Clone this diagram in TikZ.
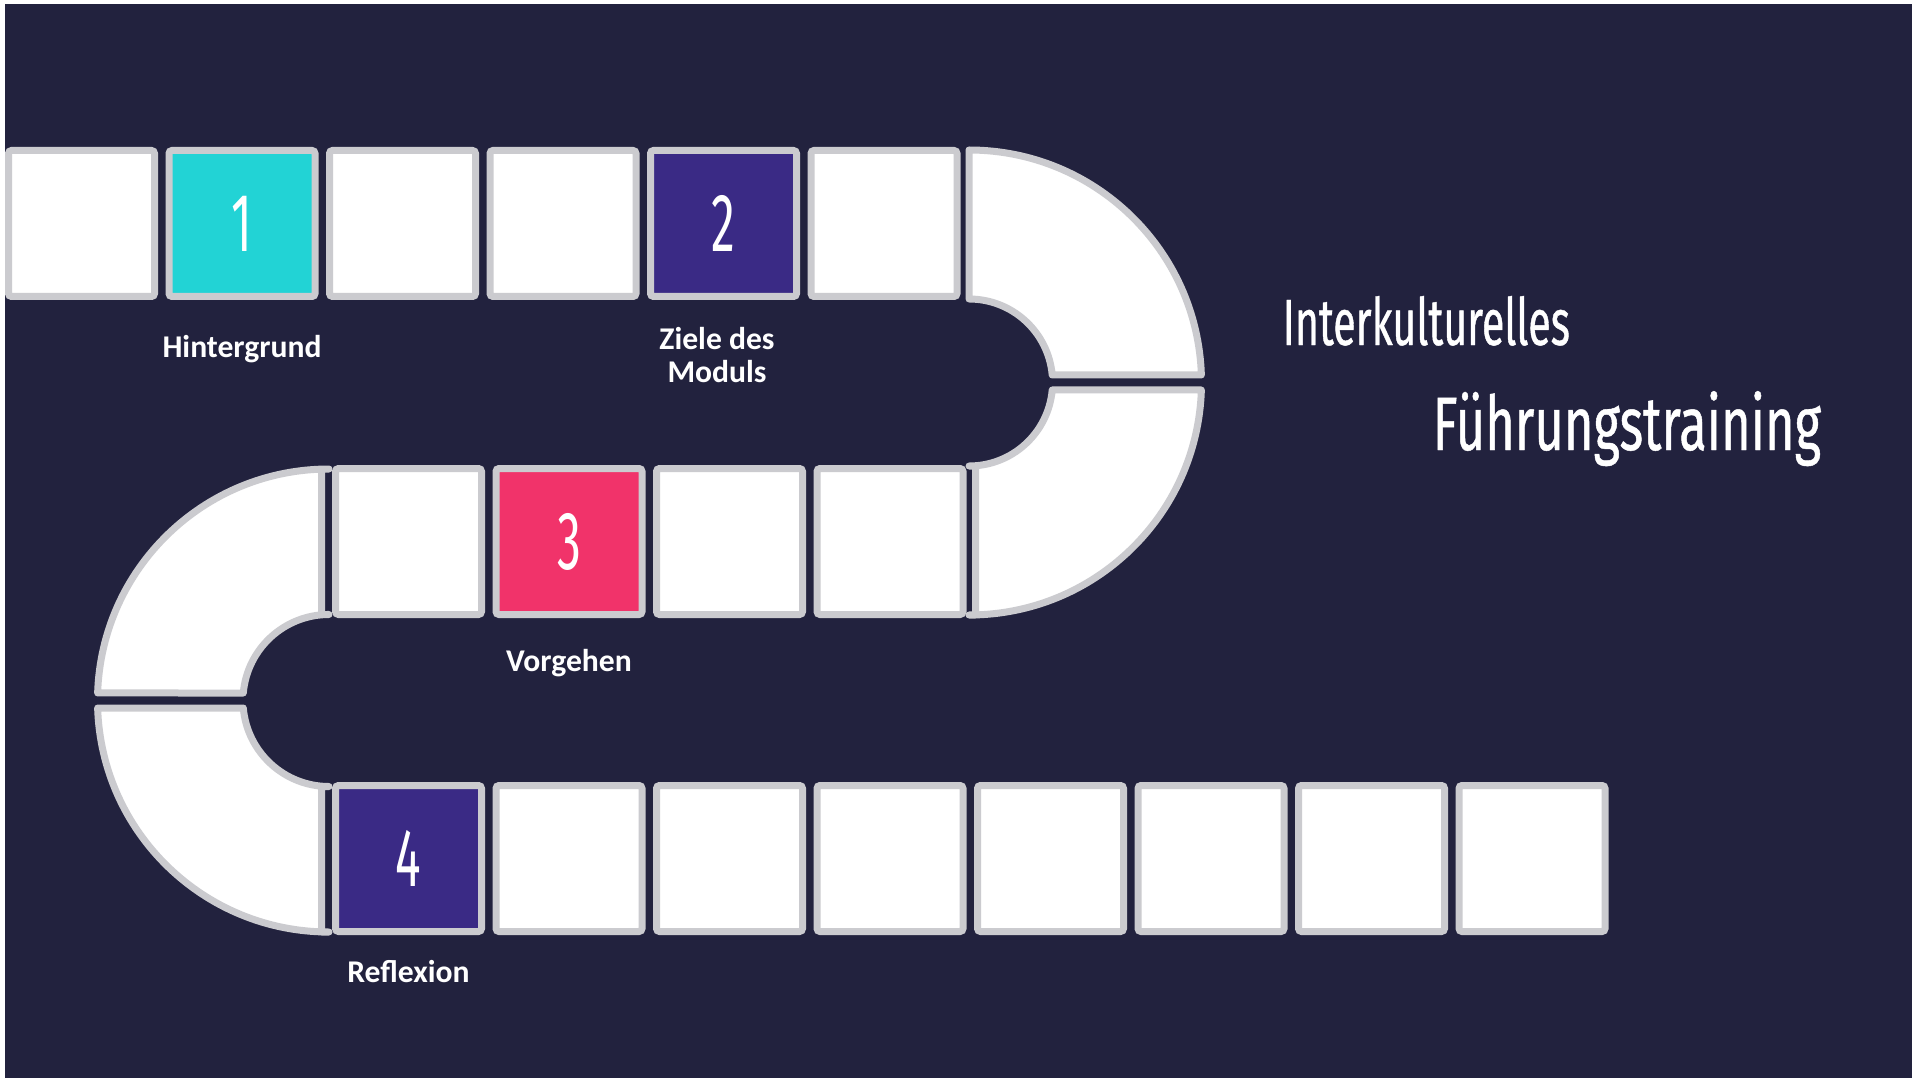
\documentclass[tikz,border=0pt]{standalone}
\usepackage{fontspec}
\setmainfont{Carlito}
\newfontfamily\handfont[FakeStretch=0.58]{Fira Sans}
\newfontfamily\headfont[FakeStretch=0.63, FakeBold=0.6]{Fira Sans}
\newfontfamily\headwidefont[FakeStretch=0.67, FakeBold=0.6]{Fira Sans}
\definecolor{boardbg}{HTML}{22223E}
\definecolor{tileedge}{HTML}{CBCBCF}
\definecolor{stopteal}{HTML}{22D3D5}
\definecolor{stoppurple}{HTML}{3A2A85}
\definecolor{stoppink}{HTML}{F1336A}

\begin{document}
\begin{tikzpicture}[x=0.1mm, y=0.1mm,
  tile/.style={draw=tileedge, fill=white, line width=0.7mm, rounded corners=0.3mm,
    minimum size=14.6mm, inner sep=0pt, text=white,
    font=\handfont\fontsize{23.5}{23.5}\selectfont},
  piece/.style={draw=tileedge, fill=white, line width=0.7mm, line join=round},
  stoplabel/.style={text=white, font=\bfseries\fontsize{9}{9.4}\selectfont, align=center},
  headline/.style={text=white, anchor=base west, inner sep=0pt}]
  \useasboundingbox (0,0) rectangle (1927,1078);
  \fill[white] (0,0) rectangle (1927,1078);
  \fill[boardbg] (5,0) rectangle (1912,1074);

  % top row
  \node[tile] (a1) at (81.5,854.5) {};
  \node[tile, fill=stopteal] (a2) at (242,854.5) {1};
  \node[tile] (a3) at (402.5,854.5) {};
  \node[tile] (a4) at (563,854.5) {};
  \node[tile, fill=stoppurple] (a5) at (723.5,854.5) {2};
  \node[tile] (a6) at (884,854.5) {};

  % right turn
  \draw[piece] (969,928) arc[start angle=90, end angle=1.85, radius=232.5]
    -- (1052.2,703) arc[start angle=5.15, end angle=90, radius=83.5] -- cycle;
  \draw[piece] (975.5,463) -- (969,463) arc[start angle=-90, end angle=-1.85, radius=232.5]
    -- (1052.2,688) arc[start angle=-5.15, end angle=-90, radius=83.5] -- (975.5,612) -- cycle;

  % middle row
  \node[tile] (b1) at (408.5,536.5) {};
  \node[tile, fill=stoppink] (b2) at (569,536.5) {3};
  \node[tile] (b3) at (729.5,536.5) {};
  \node[tile] (b4) at (890,536.5) {};

  % left turn
  \draw[piece] (321.5,609) -- (329,609) arc[start angle=90, end angle=178.14, radius=231.5]
    -- (243.3,385) arc[start angle=175, end angle=90, radius=86] -- (321.5,463.5) -- cycle;
  \draw[piece] (321.5,146) -- (329,146) arc[start angle=270, end angle=181.86, radius=231.5]
    -- (243.3,370) arc[start angle=185, end angle=270, radius=86] -- (321.5,291.5) -- cycle;

  % bottom row
  \node[tile, fill=stoppurple] (c1) at (408.5,219.5) {4};
  \node[tile] (c2) at (569,219.5) {};
  \node[tile] (c3) at (729.5,219.5) {};
  \node[tile] (c4) at (890,219.5) {};
  \node[tile] (c5) at (1050.5,219.5) {};
  \node[tile] (c6) at (1211,219.5) {};
  \node[tile] (c7) at (1371.5,219.5) {};
  \node[tile] (c8) at (1532,219.5) {};

  % labels under the stops
  \node[stoplabel, anchor=base] (hint) at (242,720.5) {Hintergrund};
  \node[stoplabel] (ziele) at (717,723) {Ziele des\\Moduls};
  \node[stoplabel, anchor=base] (vorg) at (569,407) {Vorgehen};
  \node[stoplabel, anchor=base] (refl) at (408.5,96) {Reflexion};

  % title
  \node[headline, font=\headfont\fontsize{18.6}{18.6}\selectfont] (kultur) at (1282,733) {Interkulturelles};
  \node[headline, font=\headwidefont\fontsize{21.5}{21.5}\selectfont] (fuehr) at (1432,628) {Führungstraining};
\end{tikzpicture}
\end{document}
